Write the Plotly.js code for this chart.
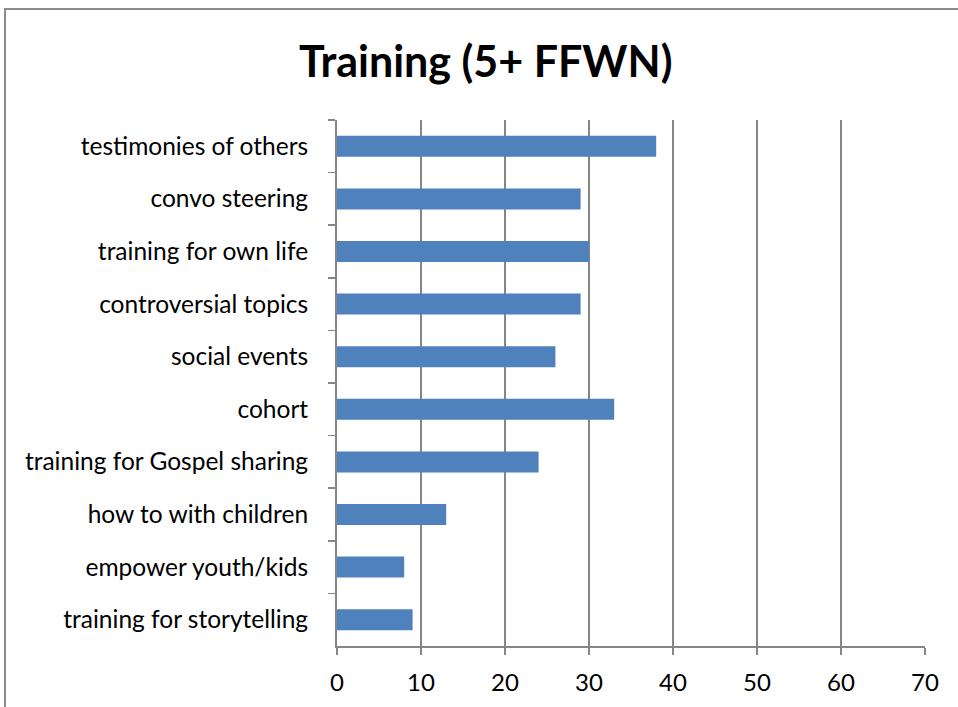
<!DOCTYPE html>
<html>
<head>
<meta charset="utf-8">
<script src="https://cdn.plot.ly/plotly-3.0.1.min.js"></script>
<style>
  html, body { margin:0; padding:0; background:#fff; }
  #wrap { position:relative; width:958px; height:707px; overflow:hidden; }
  #frame { position:absolute; left:4px; top:8px; width:960px; height:710px;
           border-left:2px solid #8c8c8c; border-top:2px solid #8c8c8c; }
  #chart { position:absolute; left:0; top:0; width:958px; height:707px; }
</style>
</head>
<body>
<div id="wrap">
  <div id="frame"></div>
  <div id="chart"></div>
</div>
<script>
const categories = [
  "testimonies of others",
  "convo steering",
  "training for own life",
  "controversial topics",
  "social events",
  "cohort",
  "training for Gospel sharing",
  "how to with children",
  "empower youth/kids",
  "training for storytelling"
];
const values = [38, 29, 30, 29, 26, 33, 24, 13, 8, 9];
const xTicks = [0, 10, 20, 30, 40, 50, 60, 70];

const trace = {
  type: 'bar',
  orientation: 'h',
  y: categories,
  x: values,
  width: 0.4,
  marker: { color: '#4F81BD' },
  hoverinfo: 'x+y'
};

const layout = {
  width: 958, height: 707,
  paper_bgcolor: 'rgba(0,0,0,0)',
  plot_bgcolor: 'rgba(0,0,0,0)',
  margin: { l: 337, r: 33, t: 120, b: 61 },
  title: {
    text: '<b>Training (5+ FFWN)</b>',
    font: { family: 'Lato, Carlito, sans-serif', size: 43, color: '#000' },
    x: 0.507, xanchor: 'center', y: 0.912, yanchor: 'middle'
  },
  showlegend: false,
  xaxis: {
    range: [0, 70],
    tickvals: xTicks,
    ticktext: xTicks.map(String),
    showgrid: true, gridcolor: '#868686', gridwidth: 1.5,
    zeroline: false,
    showline: true, linecolor: '#868686', linewidth: 2,
    ticks: 'outside', ticklen: 7, tickcolor: '#868686', tickwidth: 1.5,
    ticklabelstandoff: 7,
    tickfont: { family: 'Lato, Carlito, sans-serif', size: 24, color: '#000' },
    fixedrange: true
  },
  yaxis: {
    type: 'category',
    autorange: 'reversed',
    tickson: 'boundaries',
    showgrid: false,
    zeroline: false,
    showline: true, linecolor: '#868686', linewidth: 2,
    ticks: 'outside', ticklen: 7, tickcolor: '#868686', tickwidth: 1.5,
    ticklabelstandoff: 22,
    tickfont: { family: 'Lato, Carlito, sans-serif', size: 24.5, color: '#000' },
    fixedrange: true
  }
};

Plotly.newPlot('chart', [trace], layout, { displayModeBar: false, staticPlot: true });
</script>
</body>
</html>
